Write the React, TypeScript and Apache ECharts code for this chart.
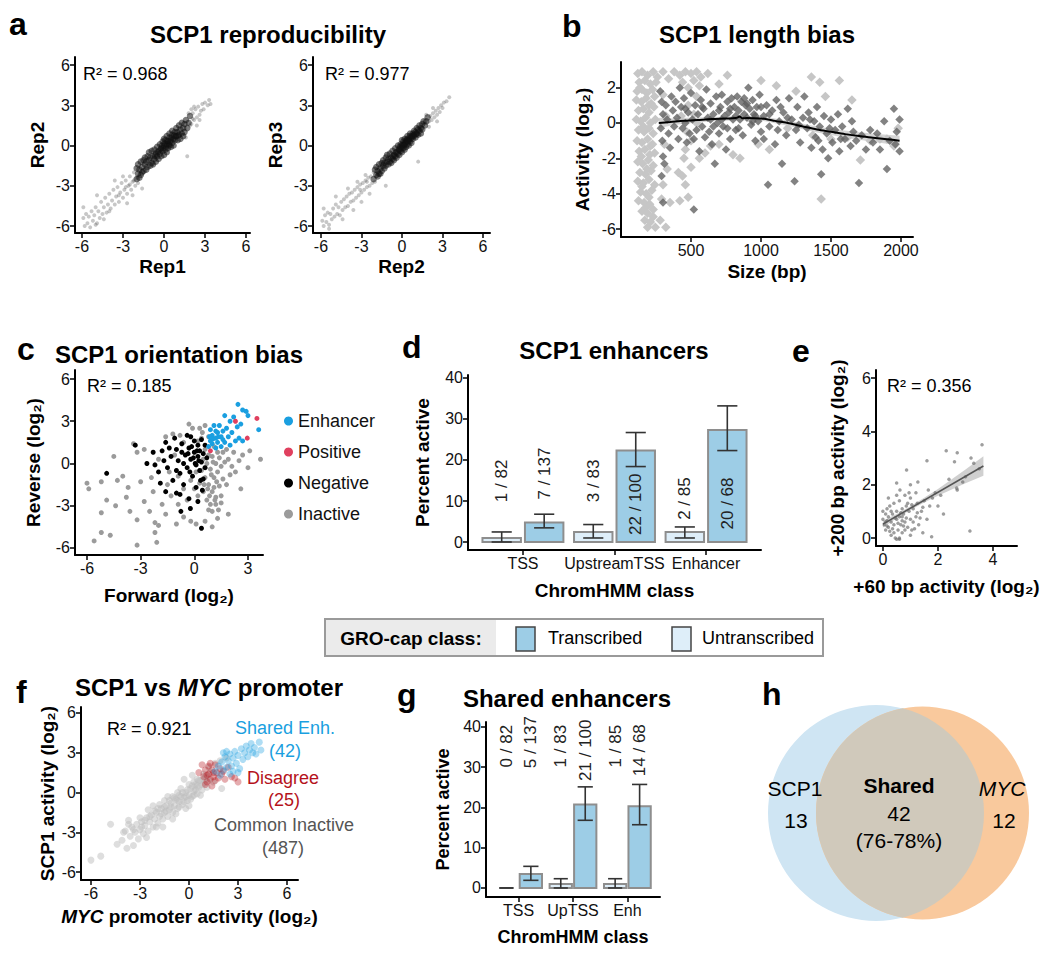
import React, { useEffect, useRef } from "react";
import * as echarts from "echarts";

const FONT = "'Liberation Sans', Arial, Helvetica, sans-serif";

// ---------- panel a : reproducibility ----------
const repTicks = [-6, -3, 0, 3, 6];
const repR2 = ["R² = 0.968", "R² = 0.977"];
const rep12Core = [[-2.0,-2.5],[-2.0,-1.7],[-1.9,-2.1],[-1.9,-1.4],[-1.8,-2.4],[-1.8,-1.8],[-1.7,-1.2],[-1.7,-2.2],[-1.6,-1.6],[-1.6,-2.0],[-1.5,-1.1],[-1.5,-1.9],[-1.4,-1.4],[-1.4,-0.9],[-1.3,-1.8],[-1.3,-1.2],[-1.2,-0.8],[-1.2,-1.6],[-1.1,-1.1],[-1.1,-0.5],[-1.0,-1.5],[-1.0,-0.9],[-0.9,-0.4],[-0.9,-1.3],[-0.8,-0.8],[-0.8,-1.4],[-0.7,-0.3],[-0.7,-1.0],[-0.6,-0.6],[-0.6,-1.2],[-0.5,-0.1],[-0.5,-0.8],[-0.4,-0.4],[-0.4,-1.0],[-0.3,0.1],[-0.3,-0.6],[-0.2,-0.2],[-0.2,-0.8],[-0.1,0.3],[-0.1,-0.4],[0.0,0.0],[0.0,-0.7],[0.0,0.5],[0.1,-0.3],[0.1,0.4],[0.2,0.1],[0.2,-0.5],[0.2,0.7],[0.3,0.3],[0.3,-0.2],[0.4,0.6],[0.4,0.0],[0.4,0.9],[0.5,0.4],[0.5,-0.1],[0.6,0.8],[0.6,0.2],[0.6,1.1],[0.7,0.5],[0.7,0.0],[0.8,1.0],[0.8,0.4],[0.9,0.7],[0.9,1.3],[1.0,0.4],[1.0,1.0],[1.1,1.5],[1.1,0.8],[1.2,0.5],[1.2,1.2],[1.3,1.7],[1.3,0.9],[1.4,1.3],[1.4,0.7],[1.5,1.6],[1.5,1.0],[1.6,1.9],[1.7,1.3],[1.8,1.7],[1.9,2.2],[-0.15,0.0],[0.25,0.35],[-0.45,-0.5],[0.55,0.6],[0.05,0.15],[-0.25,-0.3],[0.35,0.1],[0.15,-0.05],[-0.05,-0.2],[0.45,0.3],[0.75,0.75],[-0.65,-0.75],[0.85,0.7],[1.05,0.75]];
const rep12Spread = [[-5.9,-5.4],[-5.8,-6.0],[-5.7,-5.1],[-5.6,-5.8],[-5.5,-5.3],[-5.4,-6.1],[-5.3,-4.9],[-5.2,-5.6],[-5.1,-5.2],[-5.0,-4.6],[-4.9,-5.8],[-4.8,-4.9],[-4.7,-5.4],[-4.6,-4.2],[-4.5,-5.1],[-4.4,-4.6],[-4.3,-3.9],[-4.2,-5.0],[-4.1,-4.4],[-4.0,-3.6],[-3.9,-4.7],[-3.8,-4.1],[-3.7,-3.3],[-3.6,-4.4],[-3.5,-3.8],[-3.4,-3.1],[-3.3,-4.2],[-3.2,-3.5],[-3.1,-2.8],[-3.0,-3.9],[-2.9,-3.3],[-2.8,-2.6],[-2.7,-3.6],[-2.6,-3.0],[-2.5,-2.3],[-2.4,-3.3],[-2.3,-2.7],[-2.2,-2.0],[-2.1,-3.0],[-2.0,-2.4],[-5.9,-4.6],[-4.9,-3.7],[-3.6,-2.6],[-2.7,-4.3],[-1.6,-3.2],[-4.0,-4.9],[-3.0,-2.3],[-2.3,-3.7],[-5.0,-5.9],[-4.4,-5.5],[-2.5,-2.9],[-2.2,-2.6],[-1.9,-2.8],[-2.8,-3.1],[-3.3,-3.7],[2.0,1.6],[2.1,2.4],[2.2,1.9],[2.3,2.7],[2.4,2.1],[2.5,2.9],[2.6,2.3],[2.7,2.6],[2.8,3.1],[2.9,2.7],[3.0,3.2],[3.2,3.0],[3.3,3.4],[3.4,3.1],[2.2,2.9],[1.8,2.4],[2.6,1.9],[1.7,-0.8],[2.4,1.5],[1.6,0.6],[2.0,2.7],[2.1,2.0],[1.9,1.5]];
const rep23Core = [[-2.1,-2.5],[-2.0,-1.8],[-1.9,-2.2],[-1.9,-1.6],[-1.8,-2.3],[-1.8,-1.9],[-1.7,-1.4],[-1.7,-2.1],[-1.6,-1.7],[-1.6,-2.1],[-1.5,-1.3],[-1.5,-1.9],[-1.4,-1.5],[-1.4,-1.1],[-1.3,-1.7],[-1.3,-1.3],[-1.2,-0.9],[-1.2,-1.5],[-1.1,-1.2],[-1.1,-0.7],[-1.0,-1.4],[-1.0,-1.0],[-0.9,-0.6],[-0.9,-1.2],[-0.8,-0.9],[-0.8,-1.3],[-0.7,-0.4],[-0.7,-1.0],[-0.6,-0.7],[-0.6,-1.1],[-0.5,-0.2],[-0.5,-0.8],[-0.4,-0.5],[-0.4,-0.9],[-0.3,0.0],[-0.3,-0.6],[-0.2,-0.3],[-0.2,-0.7],[-0.1,0.1],[-0.1,-0.4],[0.0,0.0],[0.0,-0.5],[0.0,0.4],[0.1,-0.2],[0.1,0.3],[0.2,0.1],[0.2,-0.3],[0.2,0.5],[0.3,0.3],[0.3,-0.1],[0.4,0.5],[0.4,0.1],[0.4,0.7],[0.5,0.4],[0.5,0.0],[0.6,0.7],[0.6,0.3],[0.6,0.9],[0.7,0.6],[0.7,0.2],[0.8,0.9],[0.8,0.5],[0.9,0.8],[0.9,1.1],[1.0,0.6],[1.0,1.0],[1.1,1.3],[1.1,0.9],[1.2,0.8],[1.2,1.2],[1.3,1.5],[1.3,1.1],[1.4,1.3],[1.4,0.9],[1.5,1.6],[1.5,1.2],[1.6,1.8],[1.7,1.5],[1.8,1.8],[1.9,2.1],[-0.15,-0.1],[0.25,0.2],[-0.45,-0.5],[0.55,0.5],[0.05,0.05],[-0.25,-0.3],[0.35,0.4],[0.15,0.0],[-0.05,-0.2],[0.45,0.3],[0.75,0.7],[-0.65,-0.8],[0.85,0.7],[1.05,0.85]];
const rep23Spread = [[-5.9,-5.6],[-5.8,-6.0],[-5.7,-5.2],[-5.6,-5.7],[-5.5,-5.0],[-5.4,-5.9],[-5.3,-5.1],[-5.2,-5.5],[-5.1,-4.7],[-5.0,-5.3],[-4.9,-4.4],[-4.8,-5.1],[-4.7,-4.6],[-4.6,-5.2],[-4.5,-4.2],[-4.4,-4.8],[-4.3,-4.0],[-4.2,-4.6],[-4.1,-3.8],[-4.0,-4.5],[-3.9,-3.6],[-3.8,-4.2],[-3.7,-3.5],[-3.6,-4.1],[-3.5,-3.3],[-3.4,-3.9],[-3.3,-3.1],[-3.2,-3.7],[-3.1,-2.9],[-3.0,-3.5],[-2.9,-2.8],[-2.8,-3.3],[-2.7,-2.6],[-2.6,-3.1],[-2.5,-2.4],[-2.4,-3.0],[-2.3,-2.3],[-2.2,-2.8],[-2.1,-2.0],[-5.8,-4.7],[-4.9,-3.8],[-4.0,-3.2],[-3.0,-4.2],[-2.4,-3.6],[-1.2,-3.0],[-4.4,-5.5],[-3.6,-4.8],[-5.4,-6.2],[-3.3,-2.7],[-2.7,-2.2],[-2.0,-2.7],[-2.6,-2.7],[-3.1,-3.3],[2.0,1.8],[2.1,2.2],[2.2,1.9],[2.3,2.4],[2.4,2.1],[2.5,2.6],[2.6,2.3],[2.7,2.8],[2.8,2.5],[2.9,3.0],[3.0,2.8],[3.1,3.2],[3.3,3.3],[3.5,3.6],[2.3,2.8],[2.6,1.8],[1.2,-1.2],[2.0,1.4],[1.8,2.3]];

// ---------- panel b : length bias ----------
const sizeTicks = [500, 1000, 1500, 2000];
const activityTicks = [-6, -4, -2, 0, 2];
const lengthLight = [[120,2.8],[150,2.9],[190,2.7],[230,2.9],[260,2.6],[130,2.3],[170,2.4],[210,2.2],[250,2.3],[115,1.8],[150,1.9],[185,1.7],[225,1.9],[110,1.3],[145,1.2],[180,1.4],[215,1.1],[240,1.5],[125,0.7],[160,0.8],[200,0.6],[235,0.9],[110,0.2],[140,0.1],[175,0.3],[210,0.0],[245,0.2],[125,-0.4],[165,-0.5],[200,-0.3],[230,-0.6],[115,-1.0],[150,-1.1],[190,-0.9],[225,-1.2],[130,-1.6],[170,-1.5],[205,-1.8],[240,-1.7],[120,-2.2],[155,-2.3],[195,-2.1],[230,-2.4],[135,-2.8],[175,-2.9],[215,-2.7],[120,-3.3],[160,-3.4],[200,-3.2],[240,-3.5],[140,-3.9],[180,-4.0],[220,-3.8],[125,-4.4],[165,-4.5],[205,-4.6],[150,-5.0],[190,-5.1],[230,-4.9],[170,-5.5],[210,-5.6],[190,-5.9],[245,-5.9],[320,-5.9],[280,-5.5],[135,2.0],[200,1.0],[160,-0.2],[210,-1.3],[145,-1.9],[185,-2.6],[150,-3.6],[200,-4.2],[175,-4.8],[230,-5.3],[300,2.9],[340,2.5],[380,2.9],[420,2.7],[460,2.9],[500,2.8],[540,2.9],[570,2.6],[440,2.3],[480,2.0],[520,2.4],[560,2.1],[620,2.8],[760,2.7],[1000,2.4],[1110,2.1],[1360,2.6],[1420,2.3],[1560,2.4],[300,1.6],[320,0.4],[310,-1.2],[330,-2.6],[300,-3.5],[290,-4.3],[350,-4.5],[420,-4.4],[480,-4.2],[460,-3.5],[500,-2.5],[460,-1.5],[470,-0.5],[520,0.5],[540,1.5],[410,-2.8],[440,-3.0],[560,-2.0],[600,-1.7],[640,-1.3],[700,-1.2],[800,-1.8],[850,-2.0],[980,-1.2],[1060,-1.5],[1190,-0.3],[1370,-0.7],[1500,-0.9],[1620,-0.8],[1780,-1.0],[1850,-0.9],[1950,-1.3],[1980,-0.3],[1430,-4.3],[1710,-2.1],[1900,-0.9],[700,2.2],[1250,1.8],[1460,1.5],[1650,1.3],[480,1.0],[500,-1.0],[540,0.0],[430,0.4],[450,-2.0]];
const lengthDark = [[280,1.8],[290,1.2],[300,0.5],[285,-0.3],[295,-1.0],[300,-1.9],[310,-2.3],[290,-3.0],[300,-4.5],[320,1.0],[330,0.2],[340,-0.6],[350,-1.4],[360,1.5],[370,0.7],[380,-0.2],[390,1.2],[400,0.3],[410,-0.9],[420,2.0],[430,0.9],[440,-0.3],[450,1.4],[460,0.0],[470,-1.1],[480,0.6],[490,-0.6],[500,1.7],[510,0.2],[520,-4.9],[530,1.0],[540,-0.4],[550,0.5],[560,-1.6],[570,1.3],[580,-0.2],[590,0.8],[600,-0.8],[610,1.9],[620,0.3],[630,-0.5],[640,1.1],[650,-1.2],[660,0.5],[670,-2.3],[680,1.5],[690,0.0],[700,-0.6],[710,0.9],[720,1.6],[730,-0.2],[740,0.4],[750,-1.5],[760,1.2],[770,0.6],[780,-0.9],[790,1.4],[800,0.2],[810,0.9],[820,-0.4],[830,1.5],[840,0.7],[850,0.2],[860,1.2],[870,-0.7],[880,0.5],[890,1.0],[900,0.3],[910,2.0],[920,0.8],[930,-0.1],[940,1.3],[950,0.5],[960,-1.0],[970,0.9],[980,0.1],[990,1.6],[1000,-0.5],[1020,0.4],[1040,1.0],[1050,-3.5],[1060,-0.2],[1080,0.7],[1100,-1.2],[1110,1.3],[1130,0.1],[1150,-2.3],[1160,0.6],[1180,-0.7],[1200,1.4],[1220,0.2],[1240,-3.3],[1250,-0.4],[1260,0.9],[1280,-1.1],[1300,0.3],[1310,1.5],[1330,-0.3],[1340,0.6],[1360,-1.4],[1380,0.1],[1390,-0.8],[1400,0.9],[1420,-0.2],[1430,-2.9],[1440,-1.5],[1450,0.4],[1470,-0.6],[1480,-2.0],[1500,0.2],[1510,-1.1],[1530,-0.4],[1550,0.5],[1560,-1.6],[1580,-0.2],[1600,-0.9],[1620,0.8],[1640,-1.3],[1660,-0.5],[1680,-1.0],[1700,-3.4],[1720,-0.7],[1750,-1.5],[1780,-0.4],[1800,-1.1],[1830,-0.6],[1850,-1.5],[1880,0.1],[1900,-2.6],[1920,-1.0],[1950,0.8],[1970,-0.5],[1990,0.2],[1990,-1.6],[1960,-1.2],[640,0.2],[700,0.7],[760,-0.3],[820,0.4],[880,1.4],[940,0.1],[1000,0.9],[1060,0.5],[1120,-0.4],[580,0.9],[520,-0.9],[460,0.8],[660,-0.2],[720,0.2],[780,0.8],[840,-0.3],[900,1.1],[960,0.4],[1020,-0.9],[1140,0.9],[1190,0.3],[1270,-0.1],[1350,0.2],[1410,-1.0],[1490,-0.3],[1570,-0.9],[1650,0.1]];
const loessX = [270,350,450,550,650,750,820,850,865,900,1000,1050,1100,1200,1300,1400,1500,1600,1700,1800,1900,1990];
const loessY = [0.0,0.05,0.12,0.17,0.22,0.25,0.28,0.36,0.27,0.28,0.26,0.2,0.12,-0.02,-0.2,-0.37,-0.5,-0.63,-0.74,-0.83,-0.92,-1.0];
const loessLo = [-0.3,-0.15,-0.05,0.03,0.1,0.13,0.16,0.22,0.14,0.15,0.13,0.07,-0.02,-0.17,-0.36,-0.54,-0.68,-0.83,-0.95,-1.06,-1.17,-1.28];
const loessHi = [0.3,0.25,0.29,0.31,0.34,0.37,0.4,0.5,0.4,0.41,0.39,0.33,0.26,0.13,-0.04,-0.2,-0.32,-0.43,-0.53,-0.6,-0.67,-0.72];

// ---------- panel c : orientation ----------
const fwdTicks = [-6, -3, 0, 3];
const revTicks = [-6, -3, 0, 3, 6];
const orientR2 = "R² = 0.185";
const orientInactive = [[-6.0,-1.4],[-5.9,-1.8],[-5.2,-1.3],[-4.3,-1.2],[-4.0,-0.9],[-4.5,0.5],[-5.6,-5.5],[-5.2,-4.9],[-4.7,-5.1],[-3.2,-5.8],[-2.1,-5.6],[-4.9,-2.6],[-5.2,-3.5],[-4.4,-3.0],[-3.8,-2.4],[-3.6,-3.4],[-3.2,-4.0],[-2.8,-2.7],[-2.5,-3.4],[-2.3,-2.0],[-3.2,0.8],[-3.4,1.4],[-2.8,1.0],[-2.4,-1.0],[-2.0,-4.4],[-2.2,-4.9],[-2.2,-4.2],[-1.6,-3.6],[-1.8,-2.9],[-1.5,-1.5],[-1.6,1.9],[-1.2,2.1],[-0.8,2.0],[-0.3,2.8],[-0.1,2.5],[0.3,2.5],[0.6,2.7],[-1.0,-4.3],[-0.6,-3.8],[-0.2,-4.1],[0.1,-4.3],[0.6,-4.1],[1.0,-4.5],[1.3,-3.9],[0.8,-3.3],[1.2,-2.9],[1.5,-2.3],[1.8,-1.5],[2.0,-0.8],[2.3,-0.6],[2.5,0.2],[2.7,0.6],[3.0,-0.3],[3.7,0.3],[3.1,0.9],[2.2,0.8],[1.9,-3.6],[2.6,-1.8],[-3.7,-1.7],[-3.0,-1.3],[-2.0,0.3],[-1.4,-0.6],[-1.1,0.6],[-0.6,1.5],[0.2,1.6],[-0.4,-2.6],[-0.9,-2.9],[-1.3,-2.3],[0.4,-0.5],[0.5,0.3],[0.6,-1.0],[0.7,0.0],[0.8,-1.5],[0.9,-0.4],[1.0,0.5],[1.0,-2.0],[1.1,-1.0],[1.2,0.0],[1.2,-2.4],[1.3,-0.6],[1.4,0.4],[1.4,-1.6],[1.5,-0.2],[1.6,0.8],[1.6,-1.1],[1.7,0.1],[0.5,-2.0],[0.7,-2.6],[0.9,-2.9],[0.3,-1.4],[0.2,-2.3],[0.0,-1.8],[-0.2,-1.2],[0.1,-0.6],[0.6,1.0],[0.8,0.6],[1.1,1.2],[1.3,0.8],[0.4,1.8],[0.8,1.9],[1.0,-3.4],[1.1,-1.7],[0.6,-0.3],[0.95,-0.8],[1.25,-1.3],[0.75,-1.8],[1.5,-2.8],[1.35,-3.3],[1.9,0.3],[2.1,-0.2],[-0.6,-1.8],[-0.9,-0.9],[0.45,2.2],[1.8,1.0],[0.85,-2.3],[1.15,-2.6],[0.55,-1.5],[1.05,0.1]];
const orientNegative = [[-4.9,-0.7],[-3.3,1.3],[-2.65,0.0],[-2.3,0.8],[-2.0,-0.6],[-1.8,0.9],[-1.6,1.5],[-1.5,-0.3],[-1.3,0.5],[-1.2,-1.2],[-1.0,1.0],[-1.0,-2.1],[-0.9,0.2],[-0.8,-0.7],[-0.7,1.4],[-0.6,-1.5],[-0.5,0.6],[-0.4,-0.3],[-0.3,1.1],[-0.3,-2.5],[-0.2,0.3],[-0.1,-0.9],[0.0,0.8],[0.0,1.6],[0.1,-0.1],[0.1,-1.7],[0.2,0.5],[0.2,1.3],[0.3,-0.5],[0.3,0.9],[0.4,0.1],[0.4,1.7],[0.5,-1.1],[0.5,0.7],[0.6,1.3],[0.6,-0.3],[0.7,0.4],[-0.75,-3.4],[-0.22,-3.2],[0.2,-2.7],[0.4,-4.6],[-1.6,-2.0],[-0.8,-2.2],[-1.9,-1.4],[-2.2,-0.1],[-0.2,1.9],[-1.1,1.8],[-0.4,2.0],[-0.6,0.0],[-1.4,1.1],[-0.05,0.4],[0.15,0.9],[-0.25,-0.6],[0.35,-1.2],[-0.7,0.8],[0.45,-1.9],[-1.7,0.2],[-1.0,-0.5],[-0.15,1.2],[0.05,0.0],[-0.35,0.7],[0.25,0.2]];
const orientEnhancer = [[0.8,1.2],[0.9,1.6],[0.9,2.4],[1.0,2.0],[1.0,1.4],[1.1,2.7],[1.2,1.8],[1.2,1.1],[1.3,2.2],[1.3,1.5],[1.4,2.7],[1.5,1.9],[1.5,1.2],[1.6,2.3],[1.7,3.4],[1.7,1.5],[1.8,2.5],[1.9,1.9],[2.0,3.0],[2.0,1.3],[2.1,2.2],[2.2,3.3],[2.3,1.6],[2.4,2.6],[2.44,4.2],[2.5,1.8],[2.6,2.8],[2.7,3.8],[2.7,1.6],[2.9,3.7],[3.0,3.4],[3.6,2.4],[1.2,2.3],[0.85,1.9],[1.35,1.9],[1.05,1.75],[1.6,1.7]];
const orientPositive = [[2.3,3.0],[3.5,3.2],[2.96,1.8],[0.9,0.9]];
const orientClasses = ["Enhancer", "Positive", "Negative", "Inactive"];

// ---------- panel d : SCP1 enhancers ----------
const chromCats = ["TSS", "UpstreamTSS", "Enhancer"];
const dUntrans = [0.98, 2.45, 2.45];
const dUntransLo = [0, 0.98, 0.98];
const dUntransHi = [2.45, 4.26, 3.67];
const dUntransLabels = ["1 / 82", "3 / 83", "2 / 85"];
const dUntransLabelY = [14.9, 14.9, 10.6];
const dTrans = [4.75, 22.3, 27.3];
const dTransLo = [3.45, 18.4, 22.3];
const dTransHi = [6.78, 26.7, 33.2];
const dTransLabels = ["7 / 137", "22 / 100", "20 / 68"];
const dTransLabelY = [16.7, 9.2, 9.4];
const pctTicks = [0, 10, 20, 30, 40];

// ---------- panel e : +60 vs +200 ----------
const eTicksX = [0, 2, 4];
const eTicksY = [0, 2, 4, 6];
const eR2 = "R² = 0.356";
const eActivity = [[0.0,1.0],[0.0,0.7],[0.05,0.5],[0.1,0.9],[0.1,0.6],[0.15,1.1],[0.2,0.8],[0.2,0.4],[0.25,1.2],[0.3,0.6],[0.3,0.1],[0.35,0.9],[0.4,1.3],[0.4,0.5],[0.45,0.0],[0.5,1.0],[0.5,0.7],[0.55,0.3],[0.6,1.4],[0.6,0.8],[0.65,0.5],[0.7,1.1],[0.7,0.2],[0.75,0.9],[0.8,1.6],[0.8,0.6],[0.85,1.2],[0.9,0.4],[0.95,1.0],[1.0,0.7],[1.0,1.5],[1.05,0.3],[1.1,1.1],[1.2,0.8],[1.25,1.3],[1.3,0.5],[1.4,1.0],[1.45,0.2],[1.5,1.4],[1.6,0.7],[1.65,1.8],[1.7,1.2],[1.8,1.5],[1.9,1.7],[2.0,1.2],[2.1,1.6],[2.2,0.9],[2.4,2.2],[2.7,1.8],[2.9,2.1],[3.0,2.3],[3.3,2.8],[3.5,2.6],[0.1,0.3],[0.2,1.5],[0.3,1.0],[0.4,0.2],[0.5,1.6],[0.6,0.0],[0.7,0.8],[0.8,0.3],[0.9,1.3],[1.0,0.1],[1.1,0.6],[1.2,1.7],[0.35,0.35],[0.55,0.55],[0.65,0.95],[0.75,0.45],[0.85,0.75],[0.45,0.75],[1.25,0.95],[1.45,1.15],[0.25,0.25],[0.15,0.65],[1.05,1.25],[1.35,0.75],[0.5,-0.05],[0.6,-0.05],[0.95,1.7],[0.62,1.8],[2.6,2.86],[2.3,3.27],[2.7,3.2],[1.6,2.9],[3.2,3.0],[3.6,3.5],[0.86,2.55],[0.5,2.06],[1.27,2.1],[3.16,0.26],[1.77,0.05],[2.68,1.87],[1.0,2.0],[0.15,0.45],[0.7,0.65],[1.15,0.35]];
const eFitX = [0, 3.65];
const eFitY = [0.52, 2.7];
const eBandX = [0, 0.5, 1, 1.5, 2, 2.5, 3, 3.65];
const eBandLo = [0.39, 0.74, 1.05, 1.33, 1.58, 1.82, 2.05, 2.33];
const eBandHi = [0.65, 0.9, 1.19, 1.51, 1.84, 2.2, 2.57, 3.07];

// ---------- panel f : SCP1 vs MYC ----------
const fTicks = [-6, -3, 0, 3, 6];
const fR2 = "R² = 0.921";
const fInactive = [[-6.0,-5.1],[-5.4,-4.8],[-4.8,-2.4],[-4.4,-3.9],[-3.8,-4.2],[-3.7,-2.4],[-4.1,-3.6],[-3.9,-2.9],[-3.6,-3.3],[-3.5,-2.6],[-3.4,-4.0],[-3.3,-3.0],[-3.2,-2.4],[-3.1,-3.5],[-3.0,-2.8],[-2.9,-2.2],[-2.8,-3.1],[-2.7,-2.5],[-2.6,-1.9],[-2.5,-2.9],[-2.4,-2.2],[-2.3,-1.7],[-2.2,-2.6],[-2.1,-2.0],[-2.0,-1.5],[-1.9,-2.3],[-1.8,-1.8],[-1.7,-1.2],[-1.6,-2.0],[-1.5,-1.5],[-1.4,-1.0],[-1.3,-1.8],[-1.2,-1.3],[-1.1,-0.8],[-1.0,-1.5],[-0.9,-1.0],[-0.8,-0.5],[-0.7,-1.2],[-0.6,-0.7],[-0.5,-0.3],[-0.4,-0.9],[-0.3,-0.4],[-0.2,0.0],[-0.1,-0.6],[0.0,-0.2],[0.1,0.3],[0.2,-0.3],[0.3,0.1],[0.4,0.6],[0.5,-0.1],[0.6,0.4],[0.7,0.9],[0.8,0.2],[0.9,0.7],[1.0,1.2],[1.1,0.4],[1.2,0.9],[1.3,1.5],[1.5,0.8],[1.6,2.2],[1.9,2.4],[2.3,2.6],[2.0,0.3],[-1.5,-0.6],[-2.5,-1.3],[-1.0,-0.3],[-0.5,0.3],[0.0,0.6],[0.5,1.0],[-3.0,-1.9],[-2.0,-2.6],[-1.0,-2.0],[0.0,-1.0],[-0.3,1.0],[0.2,1.3],[-4.0,-3.0],[-2.6,-3.4],[-3.7,-2.1],[-1.8,-0.9],[-0.7,0.0],[0.3,0.8],[-1.3,-0.3],[-0.2,-1.2],[0.7,-0.2],[-2.2,-1.0],[-1.6,-2.6],[-0.8,-1.6],[0.9,1.4],[1.2,1.9],[-1.1,-1.1],[-0.6,-0.2],[0.1,-0.5],[0.6,0.9],[-0.3,-0.7],[0.4,0.2],[-1.9,-1.2],[-2.4,-1.8],[-1.4,-1.4],[-1.2,-0.6],[-0.9,-0.4],[-0.4,0.0],[0.2,0.5],[0.8,0.6],[-0.1,0.2],[-0.6,-1.1],[-1.7,-1.6],[-2.1,-1.4],[0.5,0.5],[0.9,1.0],[-0.2,-0.3],[-0.7,-0.6],[1.1,1.1],[0.3,-0.2],[-1.5,-1.1],[-2.7,-2.1],[-3.4,-2.8],[-2.9,-2.6]];
const fDisagree = [[0.6,1.5],[0.8,2.1],[0.9,1.2],[1.0,1.7],[1.1,0.8],[1.2,2.0],[1.2,1.4],[1.3,1.0],[1.4,1.7],[1.5,1.2],[1.6,0.9],[1.6,2.1],[1.7,1.5],[1.8,1.1],[1.9,1.8],[2.0,1.4],[2.2,1.0],[2.4,1.9],[2.6,1.2],[2.8,1.1],[3.0,0.8],[1.0,0.6],[1.4,0.5],[1.3,2.2],[2.1,1.6],[1.1,1.3],[1.5,1.5]];
const fShared = [[1.6,1.6],[1.8,2.0],[2.0,2.3],[2.1,1.7],[2.2,2.7],[2.3,1.9],[2.4,2.4],[2.5,2.9],[2.6,2.0],[2.7,2.6],[2.8,3.1],[2.9,2.2],[3.0,2.8],[3.1,1.8],[3.2,3.3],[3.3,2.5],[3.4,3.0],[3.5,3.5],[3.6,2.7],[3.7,3.2],[3.8,3.7],[3.9,3.0],[4.0,3.4],[4.1,2.9],[4.3,3.8],[4.4,3.2],[2.3,3.1],[2.7,1.6],[3.0,1.5],[1.9,1.3],[2.5,1.4],[2.1,3.0]];
const fGroupNames = ["Shared Enh.", "Disagree", "Common Inactive"];
const fGroupCounts = [42, 25, 487];

// ---------- panel g : shared enhancers ----------
const gCats = ["TSS", "UpTSS", "Enh"];
const gUntrans = [0, 1.0, 1.0];
const gUntransLo = [0, 0, 0];
const gUntransHi = [0, 2.3, 2.3];
const gUntransLabels = ["0 / 82", "1 / 83", "1 / 85"];
const gUntransLabelY = [35.2, 35.2, 35.2];
const gTrans = [3.48, 20.7, 20.3];
const gTransLo = [1.9, 16.8, 15.7];
const gTransHi = [5.37, 25.1, 25.7];
const gTransLabels = ["5 / 137", "21 / 100", "14 / 68"];
const gTransLabelY = [36.2, 34.2, 34.2];

// ---------- panel h : venn ----------
const vennCounts = [13, 42, 12];
const vennShareText = "(76-78%)";

// ---------- venn geometry ----------
const V1 = { cx: 876, cy: 813, r: 108 };
const V2 = { cx: 922.5, cy: 813, r: 106.5 };
(function registerLens() {
  const d = V2.cx - V1.cx;
  const a = (d * d + V1.r * V1.r - V2.r * V2.r) / (2 * d);
  const h = Math.sqrt(V1.r * V1.r - a * a);
  const ix = V1.cx + a;
  const y1 = V1.cy - h;
  const y2 = V1.cy + h;
  const path = `M ${ix} ${y1} A ${V1.r} ${V1.r} 0 0 1 ${ix} ${y2} A ${V2.r} ${V2.r} 0 0 1 ${ix} ${y1} Z`;
  echarts.graphic.registerShape("vennLens", echarts.graphic.extendPath(path, {}));
})();

function vAxis(gi: number, min: number, max: number, ticks: number[], name: string, gap: number, extra: any = {}) {
  return {
    type: "value",
    gridIndex: gi,
    min,
    max,
    name,
    nameLocation: "middle",
    nameGap: gap,
    nameTextStyle: { fontSize: 19, fontWeight: "bold", color: "#000", fontFamily: FONT, ...(extra.nameTextStyle || {}) },
    axisLine: { show: true, onZero: false, lineStyle: { color: "#000", width: 2 } },
    axisTick: { show: true, length: 5, customValues: ticks, lineStyle: { color: "#000", width: 1.5 } },
    axisLabel: { show: true, customValues: ticks, fontSize: 16, color: "#111", margin: 5, fontFamily: FONT, formatter: (v: number) => String(v), ...(extra.axisLabel || {}) },
    splitLine: { show: false },
  };
}

function scatter(gi: number, data: number[][], color: string, size: number, opacity: number, name?: string, symbol = "circle") {
  return {
    type: "scatter",
    name,
    xAxisIndex: gi,
    yAxisIndex: gi,
    data,
    symbol,
    symbolSize: size,
    itemStyle: { color, opacity, borderWidth: 0 },
    silent: true,
  };
}

function bandSeries(gi: number, xs: number[], lo: number[], hi: number[], color: string) {
  return {
    type: "custom",
    xAxisIndex: gi,
    yAxisIndex: gi,
    silent: true,
    data: xs.map((x, i) => [x, lo[i], hi[i]]),
    encode: { x: 0, y: [1, 2] },
    renderItem: (params: any, api: any) => {
      if (params.dataIndex !== 0) return null;
      const pts: number[][] = [];
      for (let i = 0; i < xs.length; i++) pts.push(api.coord([xs[i], hi[i]]));
      for (let i = xs.length - 1; i >= 0; i--) pts.push(api.coord([xs[i], lo[i]]));
      return { type: "polygon", shape: { points: pts }, style: { fill: color } };
    },
  };
}

function lineSeries(gi: number, xs: number[], ys: number[], color: string, width: number) {
  return {
    type: "line",
    xAxisIndex: gi,
    yAxisIndex: gi,
    data: xs.map((x, i) => [x, ys[i]]),
    symbol: "none",
    smooth: 0.3,
    lineStyle: { color, width },
    silent: true,
  };
}

function barSeries(gi: number, vals: number[], los: number[], his: number[], labels: string[], labelYs: number[], offset: number, fill: string, barW: number, whiskerW: number, fontSize: number) {
  return {
    type: "custom",
    xAxisIndex: gi,
    yAxisIndex: gi,
    silent: true,
    data: vals.map((v, i) => [i + 1, v, los[i], his[i], labelYs[i]]),
    encode: { x: 0, y: 1 },
    renderItem: (params: any, api: any) => {
      const i = params.dataIndex;
      const x = api.value(0) + offset;
      const v = api.value(1);
      const children: any[] = [];
      const p0 = api.coord([x - barW / 2, 0]);
      const p1 = api.coord([x + barW / 2, v]);
      if (v > 0) {
        children.push({
          type: "rect",
          shape: { x: p0[0], y: p1[1], width: p1[0] - p0[0], height: p0[1] - p1[1] },
          style: { fill, stroke: "#8e8e8e", lineWidth: 2 },
        });
      }
      const lo = api.coord([x, api.value(2)]);
      const hi = api.coord([x, api.value(3)]);
      const wl = api.coord([x - whiskerW / 2, 0])[0];
      const wr = api.coord([x + whiskerW / 2, 0])[0];
      const es = { stroke: "#333", lineWidth: 1.6 };
      children.push({ type: "line", shape: { x1: lo[0], y1: lo[1], x2: hi[0], y2: hi[1] }, style: es });
      children.push({ type: "line", shape: { x1: wl, y1: lo[1], x2: wr, y2: lo[1] }, style: es });
      children.push({ type: "line", shape: { x1: wl, y1: hi[1], x2: wr, y2: hi[1] }, style: es });
      const lp = api.coord([x, api.value(4)]);
      children.push({
        type: "text",
        x: lp[0],
        y: lp[1],
        rotation: Math.PI / 2,
        style: { text: labels[i], fontSize, fontFamily: FONT, fill: "#222", align: "center", verticalAlign: "middle" },
      });
      return { type: "group", children };
    },
  };
}

function txt(x: number, y: number, text: string, size: number, opts: any = {}) {
  return {
    type: "text",
    x,
    y,
    silent: true,
    style: {
      text,
      fontSize: size,
      fontFamily: FONT,
      fontWeight: opts.bold ? "bold" : "normal",
      fontStyle: opts.italic ? "italic" : "normal",
      fill: opts.color || "#000",
      align: opts.align || "center",
      verticalAlign: "middle",
    },
  };
}

export default function App() {
  const ref = useRef<HTMLDivElement>(null);
  useEffect(() => {
    if (!ref.current) return;
    const chart = echarts.init(ref.current, undefined, { renderer: "svg" });

    const catFmt = (cats: string[]) => (v: number) => cats[Math.round(v) - 1] || "";

    const option: any = {
      animation: false,
      backgroundColor: "#fff",
      textStyle: { fontFamily: FONT },
      legend: {
        data: orientClasses,
        orient: "vertical",
        left: 279,
        top: 407,
        icon: "circle",
        itemWidth: 9,
        itemHeight: 9,
        itemGap: 13,
        selectedMode: false,
        textStyle: { fontSize: 18, color: "#111", fontFamily: FONT },
      },
      grid: [
        { left: 75, top: 57, width: 175, height: 176 },
        { left: 313, top: 57, width: 177, height: 176 },
        { left: 621, top: 62, width: 292, height: 175 },
        { left: 75, top: 370, width: 188, height: 185 },
        { left: 468, top: 375, width: 293, height: 175 },
        { left: 876, top: 370, width: 141, height: 176 },
        { left: 81, top: 707, width: 217, height: 173 },
        { left: 486, top: 722, width: 174, height: 175 },
      ],
      xAxis: [
        vAxis(0, -6.51, 6.29, repTicks, "Rep1", 24),
        vAxis(1, -6.59, 6.52, repTicks, "Rep2", 24),
        vAxis(2, 0, 2086, sizeTicks, "Size (bp)", 25),
        vAxis(3, -6.67, 3.84, fwdTicks, "Forward (log₂)", 31),
        vAxis(4, 0.4, 3.6, [1, 2, 3], "ChromHMM class", 31, { axisLabel: { formatter: catFmt(chromCats) } }),
        vAxis(5, -0.25, 4.87, eTicksX, "+60 bp activity (log₂)", 31),
        vAxis(6, -6.61, 6.67, fTicks, "{i|MYC} promoter activity (log₂)", 27, {
          nameTextStyle: { rich: { i: { fontStyle: "italic", fontWeight: "bold", fontSize: 19, fontFamily: FONT, color: "#000" } } },
        }),
        vAxis(7, 0.4, 3.6, [1, 2, 3], "ChromHMM class", 31, { axisLabel: { formatter: catFmt(gCats) }, nameTextStyle: { fontSize: 18 } }),
      ],
      yAxis: [
        vAxis(0, -6.52, 6.6, repTicks, "Rep2", 28),
        vAxis(1, -6.52, 6.6, repTicks, "Rep3", 28),
        vAxis(2, -6.45, 3.45, activityTicks, "Activity (log₂)", 29),
        vAxis(3, -6.5, 6.64, revTicks, "Reverse (log₂)", 32),
        vAxis(4, -1.95, 40.73, pctTicks, "Percent active", 36),
        vAxis(5, -0.3, 6.3, eTicksY, "+200 bp activity (log₂)", 29),
        vAxis(6, -6.6, 6.45, fTicks, "SCP1 activity (log₂)", 24),
        vAxis(7, -2.24, 41.2, pctTicks, "Percent active", 34, { nameTextStyle: { fontSize: 18 } }),
      ],
      series: [
        // a
        scatter(0, rep12Spread, "#444", 4, 0.3),
        scatter(0, rep12Core, "#111", 6.5, 0.55),
        scatter(1, rep23Spread, "#444", 4, 0.3),
        scatter(1, rep23Core, "#111", 6.5, 0.55),
        // b
        scatter(2, lengthLight, "#c6c6c6", 9.5, 1, undefined, "diamond"),
        scatter(2, lengthDark, "#5f5f5f", 8.5, 0.78, undefined, "diamond"),
        bandSeries(2, loessX, loessLo, loessHi, "rgba(185,185,185,0.6)"),
        lineSeries(2, loessX, loessY, "#000", 2),
        // c
        scatter(3, orientInactive, "#9b9b9b", 5, 1, "Inactive"),
        scatter(3, orientNegative, "#000", 5, 1, "Negative"),
        scatter(3, orientEnhancer, "#1a9fe0", 5, 1, "Enhancer"),
        scatter(3, orientPositive, "#e0405f", 5, 1, "Positive"),
        // d
        barSeries(4, dUntrans, dUntransLo, dUntransHi, dUntransLabels, dUntransLabelY, -0.232, "#deeef9", 0.42, 0.22, 17),
        barSeries(4, dTrans, dTransLo, dTransHi, dTransLabels, dTransLabelY, 0.232, "#9dcde6", 0.42, 0.22, 17),
        // e
        scatter(5, eActivity, "#6a6a6a", 3.5, 0.65),
        bandSeries(5, eBandX, eBandLo, eBandHi, "rgba(150,150,150,0.45)"),
        lineSeries(5, eFitX, eFitY, "#555", 1.6),
        // f
        scatter(6, fInactive, "#bdbdbd", 7, 0.5),
        scatter(6, fDisagree, "#b5121b", 7, 0.35),
        scatter(6, fShared, "#1a9fe0", 7, 0.35),
        // g
        barSeries(7, gUntrans, gUntransLo, gUntransHi, gUntransLabels, gUntransLabelY, -0.225, "#deeef9", 0.41, 0.26, 17),
        barSeries(7, gTrans, gTransLo, gTransHi, gTransLabels, gTransLabelY, 0.225, "#9dcde6", 0.41, 0.28, 17),
      ],
      graphic: [
        // panel letters
        txt(9, 24, "a", 32, { bold: true, align: "left" }),
        txt(562, 26, "b", 32, { bold: true, align: "left" }),
        txt(17, 349, "c", 32, { bold: true, align: "left" }),
        txt(402, 347, "d", 32, { bold: true, align: "left" }),
        txt(792, 351, "e", 32, { bold: true, align: "left" }),
        txt(16, 692, "f", 32, { bold: true, align: "left" }),
        txt(397, 695, "g", 32, { bold: true, align: "left" }),
        txt(762, 694, "h", 32, { bold: true, align: "left" }),
        // titles
        txt(268, 34, "SCP1 reproducibility", 24, { bold: true }),
        txt(757, 34, "SCP1 length bias", 24, { bold: true }),
        txt(55, 354, "SCP1 orientation bias", 24, { bold: true, align: "left" }),
        txt(614, 350, "SCP1 enhancers", 24, { bold: true }),
        {
          type: "text",
          x: 209,
          y: 687,
          silent: true,
          style: {
            text: "{n|SCP1 vs }{i|MYC}{n| promoter}",
            align: "center",
            verticalAlign: "middle",
            rich: {
              n: { fontSize: 24, fontWeight: "bold", fontFamily: FONT, fill: "#000" },
              i: { fontSize: 24, fontWeight: "bold", fontStyle: "italic", fontFamily: FONT, fill: "#000" },
            },
          },
        },
        txt(567, 698, "Shared enhancers", 24, { bold: true }),
        // R2
        txt(83, 74, repR2[0], 18, { align: "left" }),
        txt(325, 74, repR2[1], 18, { align: "left" }),
        txt(87, 386, orientR2, 18, { align: "left" }),
        txt(887, 386, eR2, 18, { align: "left" }),
        txt(107, 729, fR2, 18, { align: "left" }),
        // f annotations
        txt(285, 728, fGroupNames[0], 18, { color: "#1a9fe0" }),
        txt(285, 751, `(${fGroupCounts[0]})`, 18, { color: "#1a9fe0" }),
        txt(283, 778, fGroupNames[1], 18, { color: "#b5121b" }),
        txt(284, 800, `(${fGroupCounts[1]})`, 18, { color: "#b5121b" }),
        txt(284, 825, fGroupNames[2], 18, { color: "#555" }),
        txt(283, 848, `(${fGroupCounts[2]})`, 18, { color: "#555" }),
        // GRO-cap legend box
        { type: "rect", shape: { x: 325, y: 619, width: 498, height: 37 }, style: { fill: "#fff", stroke: "#9a9a9a", lineWidth: 2 }, silent: true },
        { type: "rect", shape: { x: 326, y: 620, width: 170, height: 35 }, style: { fill: "#ebebeb" }, silent: true },
        txt(411, 638, "GRO-cap class:", 19, { bold: true }),
        { type: "rect", shape: { x: 516, y: 627, width: 19, height: 24 }, style: { fill: "#9dcde6", stroke: "#444", lineWidth: 1.5 }, silent: true },
        txt(548, 638, "Transcribed", 18, { align: "left" }),
        { type: "rect", shape: { x: 672, y: 627, width: 19, height: 24 }, style: { fill: "#deeef9", stroke: "#444", lineWidth: 1.5 }, silent: true },
        txt(702, 638, "Untranscribed", 18, { align: "left" }),
        // venn
        { type: "circle", shape: { cx: V1.cx, cy: V1.cy, r: V1.r }, style: { fill: "#cfe5f3" }, silent: true },
        { type: "circle", shape: { cx: V2.cx, cy: V2.cy, r: V2.r }, style: { fill: "#f9c99d" }, silent: true },
        { type: "vennLens", x: 0, y: 0, scaleX: 1, scaleY: 1, style: { fill: "#d0c9bb" }, silent: true },
        txt(795, 788, "SCP1", 21),
        txt(796, 820, String(vennCounts[0]), 21),
        txt(899, 785, "Shared", 21, { bold: true }),
        txt(899, 813, String(vennCounts[1]), 21),
        txt(899, 840, vennShareText, 21),
        txt(1002, 788, "MYC", 21, { italic: true }),
        txt(1004, 820, String(vennCounts[2]), 21),
      ],
    };

    chart.setOption(option);
    return () => chart.dispose();
  }, []);

  return <div ref={ref} style={{ position: "absolute", left: 0, top: 0, width: 1050, height: 954 }} />;
}
